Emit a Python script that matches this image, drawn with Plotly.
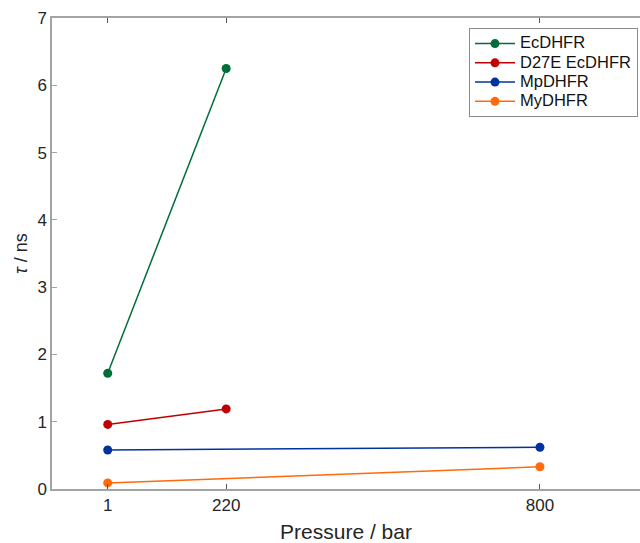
import plotly.graph_objects as go

# Data
series_names = ["EcDHFR", "D27E EcDHFR", "MpDHFR", "MyDHFR"]
ec_pressure = [1, 220]
ec_tau = [1.72, 6.25]
d27e_pressure = [1, 220]
d27e_tau = [0.96, 1.19]
mp_pressure = [1, 800]
mp_tau = [0.58, 0.62]
my_pressure = [1, 800]
my_tau = [0.09, 0.33]
x_ticks = [1, 220, 800]
y_ticks = [0, 1, 2, 3, 4, 5, 6, 7]

colors = ["#006e3a", "#c00000", "#00339f", "#ff6a0a"]

fig = go.Figure()
for name, xs, ys, c in zip(
    series_names,
    [ec_pressure, d27e_pressure, mp_pressure, my_pressure],
    [ec_tau, d27e_tau, mp_tau, my_tau],
    colors,
):
    fig.add_trace(go.Scatter(
        x=xs, y=ys, name='<span style="font-size:16.5px">' + name + '</span>',
        mode="lines+markers",
        line=dict(color=c, width=1.5),
        marker=dict(color=c, size=9),
    ))

axis_gray = "#a3a3a3"
fig.update_layout(
    width=640, height=543,
    margin=dict(l=52, r=0, t=18, b=54),
    plot_bgcolor="white", paper_bgcolor="white",
    font=dict(family="Liberation Sans, Arial, sans-serif", color="#262626"),
    showlegend=True,
    legend=dict(
        x=0.9966, y=0.9788, xanchor="right", yanchor="top",
        bordercolor="#8a8a8a", borderwidth=1, bgcolor="white",
        font=dict(size=12.5, color="#111111"),
        itemwidth=40, tracegroupgap=0,
    ),
    xaxis=dict(
        range=[-102, 985], tickvals=x_ticks, ticktext=[str(v) for v in x_ticks],
        showgrid=False, zeroline=False,
        showline=True, linecolor=axis_gray, linewidth=1.5, mirror="ticks",
        ticks="inside", ticklen=5, tickcolor="#555555", tickwidth=1,
        tickfont=dict(size=17),
        title=dict(text="Pressure / bar", font=dict(size=21), standoff=13),
        automargin=False,
    ),
    yaxis=dict(
        range=[0, 7], tickvals=y_ticks,
        showgrid=False, zeroline=False,
        showline=True, linecolor=axis_gray, linewidth=1.5,
        ticks="inside", ticklen=5, tickcolor=axis_gray, tickwidth=1,
        tickfont=dict(size=17),
        title=dict(text="<i>τ</i> / ns", font=dict(size=18), standoff=5),
        automargin=False,
    ),
)

fig.write_html(
    "out.html",
    config={"displayModeBar": False},
    post_script="document.body.style.margin='0';document.body.style.overflow='hidden';",
)
